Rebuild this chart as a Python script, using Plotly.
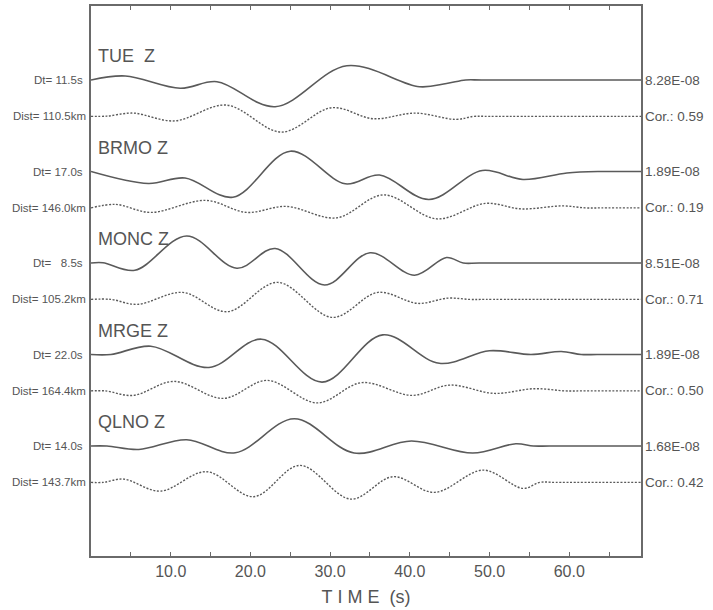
import plotly.graph_objects as go

# ---------------- data ----------------
stations = ["TUE\u00a0\u00a0Z", "BRMO Z", "MONC Z", "MRGE Z", "QLNO Z"]
dt_labels = ["Dt=\u00a011.5s", "Dt=\u00a017.0s", "Dt=\u00a0\u00a0\u00a08.5s",
             "Dt=\u00a022.0s", "Dt=\u00a014.0s"]
dist_labels = ["Dist=\u00a0110.5km", "Dist=\u00a0146.0km", "Dist=\u00a0105.2km",
               "Dist=\u00a0164.4km", "Dist=\u00a0143.7km"]
amp_labels = ["8.28E-08", "1.89E-08", "8.51E-08", "1.89E-08", "1.68E-08"]
cor_labels = ["Cor.:\u00a00.59", "Cor.:\u00a00.19", "Cor.:\u00a00.71",
              "Cor.:\u00a00.50", "Cor.:\u00a00.42"]

tick_vals = [5, 10, 15, 20, 25, 30, 35, 40, 45, 50, 55, 60, 65]
tick_text = ["", "10.0", "", "20.0", "", "30.0", "", "40.0", "", "50.0", "", "60.0", ""]

# observed (solid) and synthetic (dotted) traces: time [s], normalized amplitude
tue_obs_t = [0, 4.3, 11.2, 15.8, 23.1, 32.1, 41.2, 44.6, 47.0, 49.0, 69]
tue_obs_a = [0, 4.0, -8.3, -1.7, -26.7, 14.3, -6.7, -3.5, 0, 0, 0]
tue_syn_t = [0, 2.0, 5.3, 10.5, 17.0, 23.9, 30.2, 35.4, 40.7, 45.8, 48.0, 50.0, 69]
tue_syn_a = [0, 0.3, 3.3, -4.5, 11.3, -15.7, 8.7, -2.3, 3.3, -3.0, 0, 0, 0]

brmo_obs_t = [0, 7.2, 11.8, 17.8, 25.0, 31.9, 36.2, 42.4, 49.1, 54.2, 59.7, 64.0, 66.0, 69]
brmo_obs_a = [0, -12, -6.5, -25.7, 20.3, -12.3, -3.5, -28, 1.0, -8.0, -1.5, 0, 0, 0]
brmo_syn_t = [0, 3.1, 7.5, 14.4, 19.5, 24.5, 30.8, 36.7, 43.4, 49.5, 54.0, 59.2, 62.0, 64.0, 69]
brmo_syn_a = [0, 3.5, -4.5, 7.5, -4.5, 1.5, -10, 13, -11, 4.5, -1.0, 2.0, 0, 0, 0]

monc_obs_t = [0, 1.5, 5.5, 12.0, 18.3, 23.1, 29.3, 35.0, 40.6, 44.6, 46.7, 48.7, 69]
monc_obs_a = [0, 0.3, -7.3, 27, -5.3, 14.5, -22, 10.2, -12.2, 5.5, 0, 0, 0]
monc_syn_t = [0, 2.5, 5.8, 11.5, 17.1, 23.4, 30.3, 36.0, 41.0, 44.8, 47.5, 49.5, 69]
monc_syn_a = [0, 0, -5, 7, -12.3, 17, -18, 7, -4, 1.3, 0, 0, 0]

mrge_obs_t = [0, 2.5, 7.5, 14.8, 21.4, 29.0, 36.6, 43.7, 50.0, 55.2, 59.0, 61.5, 63.5, 69]
mrge_obs_a = [0, 0, 8.3, -13, 15.3, -27.6, 19.6, -8.8, 3.7, 0, 3.0, 0, 0, 0]
mrge_syn_t = [0, 1.8, 5.3, 10.4, 16.6, 22.1, 28.4, 34.0, 40.3, 45.0, 50.6, 55.6, 59.5, 61.5, 69]
mrge_syn_a = [0, 0, -4.5, 9.5, -7.5, 10.5, -12, 8.3, -4.5, 5.8, -2.5, 2.2, 0, 0, 0]

qlno_obs_t = [0, 2.0, 6.0, 12.0, 18.1, 25.5, 33.0, 40.2, 47.9, 53.3, 55.5, 57.5, 69]
qlno_obs_a = [0, 0, -3.5, 6.3, -6.8, 27.3, -7, 5, -7, 2.3, 0, 0, 0]
qlno_syn_t = [0, 1.5, 4.1, 8.7, 14.5, 20.4, 26.2, 32.6, 37.9, 43.1, 49.2, 54.2, 56.3, 58.3, 69]
qlno_syn_a = [0, 0, 3.3, -8.7, 10.7, -14.3, 17, -16.7, 5.7, -10, 12.3, -6, 0, 0, 0]

obs_t = [tue_obs_t, brmo_obs_t, monc_obs_t, mrge_obs_t, qlno_obs_t]
obs_a = [tue_obs_a, brmo_obs_a, monc_obs_a, mrge_obs_a, qlno_obs_a]
syn_t = [tue_syn_t, brmo_syn_t, monc_syn_t, mrge_syn_t, qlno_syn_t]
syn_a = [tue_syn_a, brmo_syn_a, monc_syn_a, mrge_syn_a, qlno_syn_a]

# ---------------- layout / styling ----------------
LINE = "#5a5a5a"
TEXT = "#555555"
FONT = "Liberation Sans, Arial, sans-serif"
top_base = 476.0
spacing = 91.5
syn_gap = 36.4
label_lift = 24.0

fig = go.Figure()
annotations = []
for i in range(len(stations)):
    base = top_base - spacing * i
    sbase = base - syn_gap
    fig.add_trace(go.Scatter(
        x=obs_t[i], y=[base + a for a in obs_a[i]], mode="lines",
        line=dict(color=LINE, width=1.6, shape="spline", smoothing=1.0),
        showlegend=False, hoverinfo="skip"))
    fig.add_trace(go.Scatter(
        x=syn_t[i], y=[sbase + a for a in syn_a[i]], mode="lines",
        line=dict(color=LINE, width=1.4, shape="spline", smoothing=1.0, dash="2px,1.6px"),
        showlegend=False, hoverinfo="skip"))
    annotations += [
        dict(text=stations[i], x=0.009, xref="paper", y=base + label_lift, yref="y",
             xanchor="left", yanchor="middle", showarrow=False,
             font=dict(size=18, color=TEXT, family=FONT)),
        dict(text=dt_labels[i], x=-0.011, xref="paper", y=base, yref="y",
             xanchor="right", yanchor="middle", showarrow=False,
             font=dict(size=11.5, color=TEXT, family=FONT)),
        dict(text=dist_labels[i], x=-0.006, xref="paper", y=sbase, yref="y",
             xanchor="right", yanchor="middle", showarrow=False,
             font=dict(size=11.5, color=TEXT, family=FONT)),
        dict(text=amp_labels[i], x=1.004, xref="paper", y=base, yref="y",
             xanchor="left", yanchor="middle", showarrow=False,
             font=dict(size=13.5, color=TEXT, family=FONT)),
        dict(text=cor_labels[i], x=1.004, xref="paper", y=sbase, yref="y",
             xanchor="left", yanchor="middle", showarrow=False,
             font=dict(size=13.5, color=TEXT, family=FONT)),
    ]

fig.update_layout(
    width=713, height=610,
    margin=dict(l=91, r=72, t=6, b=54, autoexpand=False),
    paper_bgcolor="white", plot_bgcolor="white",
    annotations=annotations,
    xaxis=dict(
        range=[0, 69], showgrid=False, zeroline=False,
        showline=True, linecolor="#6a6a6a", linewidth=1.6, mirror="ticks",
        ticks="inside", ticklen=4, tickwidth=1.2, tickcolor="#6a6a6a",
        tickmode="array", tickvals=tick_vals, ticktext=tick_text,
        tickfont=dict(size=16, color=TEXT, family=FONT),
        title=dict(text="T\u00a0I\u00a0M\u00a0E\u00a0\u00a0(s)", standoff=11,
                   font=dict(size=18, color=TEXT, family=FONT)),
    ),
    yaxis=dict(
        range=[0, 550], showgrid=False, zeroline=False, showticklabels=False,
        showline=True, linecolor="#6a6a6a", linewidth=1.6, mirror=True, ticks="",
    ),
)

fig.write_html(
    "out.html",
    config={"displayModeBar": False},
    post_script="document.body.style.margin='0';document.body.style.overflow='hidden';",
)
